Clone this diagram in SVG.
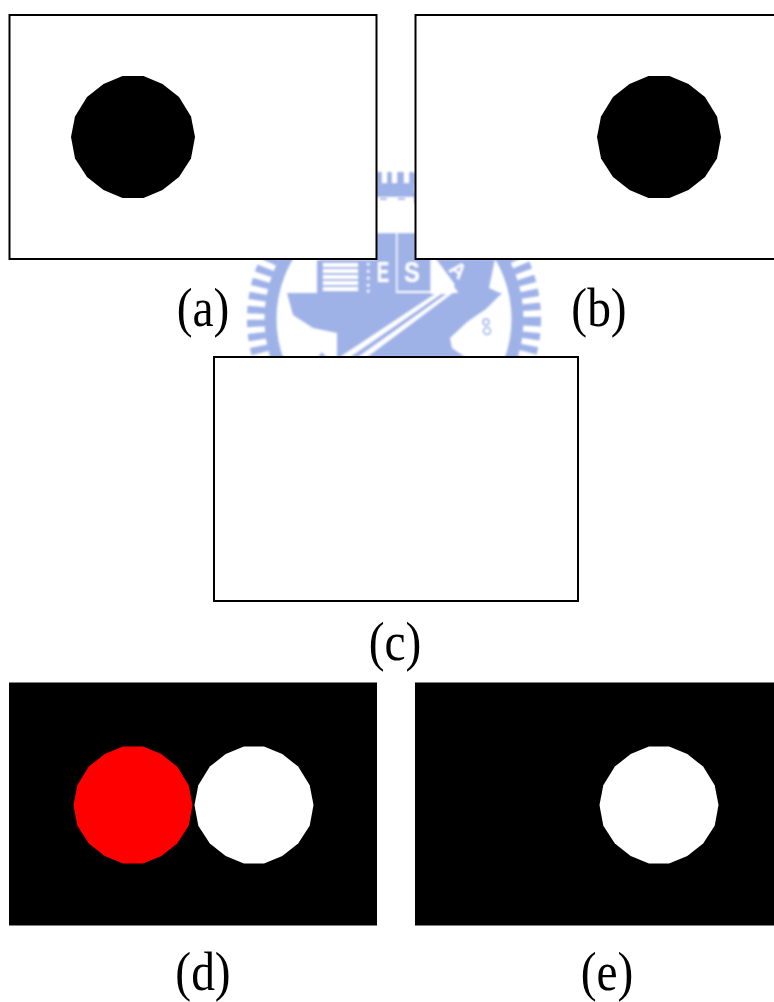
<svg xmlns="http://www.w3.org/2000/svg" width="774" height="1002" viewBox="0 0 774 1002">
<defs>
<style>
.frame{fill:#fff;stroke:#000;stroke-width:2}
.dark{fill:#000;stroke:#000;stroke-width:1}
.lab{font-family:"Liberation Serif","Times New Roman",serif;font-size:50px;fill:#000;text-anchor:middle}
.wm{fill:#9fb2e8}
.wmt{font-family:"Liberation Sans",Arial,sans-serif;font-weight:bold;fill:#fff;text-anchor:middle}
</style>
<polygon id="disc" points="-10.5,-61 10.5,-61 29.5,-53 46,-40 58,-20.5 62,0 58,21.5 46,40 29.5,53 10.5,61 -10.5,61 -29.5,53 -46,40 -58,21.5 -62,0 -58,-20.5 -46,-40 -29.5,-53"/>
<filter id="soft" x="-5%" y="-5%" width="110%" height="110%"><feGaussianBlur stdDeviation="0.8"/></filter>
<clipPath id="wmclip"><rect x="240" y="165" width="310" height="192"/></clipPath>
</defs>
<rect width="774" height="1002" fill="#fff"/>
<g id="watermark" filter="url(#soft)" clip-path="url(#wmclip)">
<circle cx="394" cy="319" r="138" fill="none" stroke="#9fb2e8" stroke-width="18" stroke-dasharray="7 6.3"/>
<circle cx="394" cy="319" r="123.500" fill="none" stroke="#9fb2e8" stroke-width="12"/>
<rect class="wm" x="376" y="172" width="38" height="25"/>
<rect x="382" y="170" width="5" height="13" fill="#fff"/><rect x="392" y="170" width="5" height="13" fill="#fff"/><rect x="404" y="170" width="5" height="13" fill="#fff"/>
<rect x="376" y="197" width="38" height="36" fill="#fff"/>
<rect x="380" y="198" width="7" height="2" class="wm"/><rect x="398" y="198" width="7" height="2" class="wm"/>
<rect class="wm" x="317" y="260" width="79" height="33"/>
<rect class="wm" x="376" y="233" width="20" height="60"/>
<rect class="wm" x="397.500" y="233" width="33" height="58"/>
<path class="wm" d="M287 293H502L486 309L467 322L450 338L452 348L465 357H337V333L313 328L293 315Z"/>
<path class="wm" d="M433 259H495L489 288L502 294L470 310L453 285Z"/>
<path class="wm" d="M318 357L322 352L326 357Z"/>
<g fill="#fff"><rect x="323" y="263" width="35" height="4"/><rect x="323" y="269" width="35" height="4"/><rect x="323" y="275" width="35" height="4"/><rect x="323" y="281" width="35" height="4"/><rect x="323" y="287" width="35" height="4"/></g>
<g fill="#fff"><rect x="367" y="263" width="2.500" height="2.500"/><rect x="367" y="270" width="2.500" height="2.500"/><rect x="367" y="277" width="2.500" height="2.500"/><rect x="367" y="284" width="2.500" height="2.500"/><rect x="367" y="290" width="2.500" height="2.500"/></g>
<text class="wmt" transform="translate(383 282) scale(.75 1.15)" font-size="25">E</text>
<text class="wmt" transform="translate(412 282) scale(.95 1.15)" font-size="25">S</text>
<text class="wmt" x="458" y="277" font-size="21" transform="rotate(40 458 270)">A</text>
<path d="M340 357L450 284L454 292L367 357H358L449 292L447 290L350 357Z" fill="#fff"/>
<path d="M431 259L436 259L455 285L451 287L431 293Z" fill="#fff"/>
<path d="M431 291H448V294H431Z" fill="#fff"/>
<g fill="none" stroke="#9fb2e8" stroke-width="1.500"><circle cx="486" cy="322" r="3"/><circle cx="487" cy="331" r="3.500"/></g>
</g>
<g id="panel-a"><rect class="frame" x="9.500" y="15" width="367" height="244"/><use href="#disc" x="133" y="137"/></g>
<g id="panel-b"><rect class="frame" x="415.500" y="15" width="367" height="244"/><use href="#disc" x="659" y="137"/></g>
<g id="panel-c"><rect class="frame" x="214" y="357" width="364" height="244"/></g>
<g id="panel-d"><rect class="dark" x="9.500" y="683" width="367" height="242"/><use href="#disc" x="133" y="805" fill="#f00" transform="translate(133 805) scale(.96) translate(-133 -805)"/><use href="#disc" x="254" y="805" fill="#fff" transform="translate(254 805) scale(.96) translate(-254 -805)"/></g>
<g id="panel-e"><rect class="dark" x="415.500" y="683" width="367" height="242"/><use href="#disc" x="659" y="805" fill="#fff" transform="translate(659 805) scale(.96) translate(-659 -805)"/></g>
<g id="labels">
<text class="lab" transform="translate(203 326) scale(.95 1.08)">(a)</text>
<text class="lab" transform="translate(599 326) scale(.95 1.08)">(b)</text>
<text class="lab" transform="translate(395 660) scale(.95 1.08)">(c)</text>
<text class="lab" transform="translate(203 990) scale(.95 1.08)">(d)</text>
<text class="lab" transform="translate(607 990) scale(.95 1.08)">(e)</text>
</g>
</svg>
